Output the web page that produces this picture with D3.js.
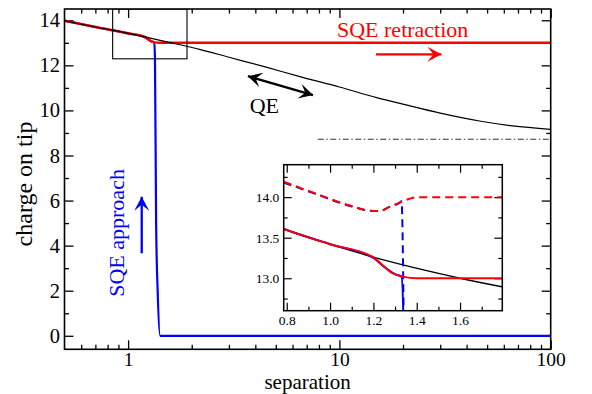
<!DOCTYPE html>
<html>
<head>
<meta charset="utf-8">
<script src="https://cdn.jsdelivr.net/npm/d3@7"></script>
<style>
  body { margin: 0; background: #fff; }
  text { font-family: "Liberation Serif", "Times New Roman", serif; }
</style>
</head>
<body>
<svg width="592" height="394"></svg>
<script>
// ---- data ----
// QE curve (black), separation vs charge
const qeCurve = [[0.5, 13.98], [0.7, 13.7], [1, 13.42], [1.2, 13.26], [1.6, 13.0], [2.2, 12.7],
  [3, 12.36], [4.5, 11.92], [6.5, 11.5], [10, 11.04], [15, 10.57], [20, 10.28], [30, 9.88],
  [46, 9.53], [66, 9.31], [100, 9.16]];
// SQE retraction (red)
const sqeRetraction = [[0.5, 13.98], [0.7, 13.7], [1, 13.42], [1.2, 13.26], [1.243, 13.16],
  [1.29, 13.06], [1.336, 13.02], [1.4, 13.0], [100, 13.0]];
// SQE approach (blue)
const sqeApproach = [[0.5, 13.98], [0.7, 13.7], [1, 13.42], [1.2, 13.25], [1.25, 13.14],
  [1.3, 13.05], [1.33, 13.02], [1.34, 12.3], [1.357, 5], [1.38, 2.0], [1.418, 0], [100, 0]];
// dashed curves only shown in the inset
const retractionDashed = [[0.786, 14.19], [0.933, 14.045], [1.088, 13.9], [1.197, 13.83],
  [1.228, 13.83], [1.274, 13.88], [1.32, 13.93], [1.367, 13.98], [1.4, 14.0], [1.8, 14.0]];
const approachDashed = [[0.786, 14.18], [0.933, 14.04], [1.088, 13.895], [1.197, 13.83],
  [1.228, 13.83], [1.274, 13.88], [1.32, 13.93], [1.33, 13.95], [1.34, 12.5]];
// asymptote (dash dot)
const asymptote = [[7.9, 8.72], [100, 8.72]];
// zoom box drawn on the main plot
const zoomBox = { x: [0.845, 1.9], y: [12.29, 14.5] };

// ticks
const xMajor = [1, 10, 100];
const xMinor = [0.6, 0.7, 0.8, 0.9, 2, 3, 4, 5, 6, 7, 8, 9, 20, 30, 40, 50, 60, 70, 80, 90];
const yMajor = [0, 2, 4, 6, 8, 10, 12, 14];
const yMinor = [1, 3, 5, 7, 9, 11, 13];
const insetXMajor = [0.8, 1.0, 1.2, 1.4, 1.6];
const insetXMinor = [0.9, 1.1, 1.3, 1.5, 1.7];
const insetYMajor = [13.0, 13.5, 14.0];
const insetYMinor = [12.75, 13.25, 13.75, 14.25];

// annotations, in data coordinates
const arrows = [
  { from: [14.9, 12.49], to: [30.4, 12.49], color: "#ff0000", both: false },
  { from: [1.16, 3.66], to: [1.16, 6.17], color: "#0000ff", both: false },
  { from: [7.5, 10.68], to: [3.69, 11.52], color: "#000", both: true }
];

const svg = d3.select("svg"),
  margin = { top: 9, right: 41.3, bottom: 44.7, left: 64.5 },
  width = +svg.attr("width") - margin.left - margin.right,
  height = +svg.attr("height") - margin.top - margin.bottom;

const x = d3.scaleLog().domain([0.5, 100]).range([0, width]);
const y = d3.scaleLinear().domain([-0.6, 14.5]).range([height, 0]);

const g = svg.append("g")
  .attr("transform", "translate(" + margin.left + "," + margin.top + ")");

g.append("clipPath").attr("id", "clipMain")
  .append("rect").attr("width", width).attr("height", height);

// tick helper, all ticks point inward like in grace
function ticks(sel, axis, major, minor, size, fmt, pad, font, labels) {
  sel.append("g").call(axis.tickValues(major).tickSize(-size).tickSizeOuter(0)
      .tickPadding(pad).tickFormat(labels ? fmt : ""))
    .call(a => a.select(".domain").remove())
    .call(a => a.selectAll("text").attr("font-family", "Liberation Serif")
      .attr("font-size", font).attr("fill", "#000"));
  sel.append("g").call(axis.tickValues(minor).tickSize(-size / 2).tickFormat(""))
    .call(a => a.select(".domain").remove());
}

// main axes
ticks(g.append("g").attr("transform", "translate(0," + height + ")"),
  d3.axisBottom(x), xMajor, xMinor, 9, d3.format("d"), 2.5, 19.5, true);
ticks(g.append("g"), d3.axisTop(x), xMajor, xMinor, 9, null, 3, 19.5, false);
ticks(g.append("g"), d3.axisLeft(y), yMajor, yMinor, 9, d3.format("d"), 4.5, 20.5, true);
ticks(g.append("g").attr("transform", "translate(" + width + ",0)"),
  d3.axisRight(y), yMajor, yMinor, 9, null, 3, 20.5, false);
g.selectAll(".tick line").attr("stroke", "#000").attr("stroke-width", 1.3);

const line = d3.line().x(d => x(d[0])).y(d => y(d[1])).curve(d3.curveMonotoneX);
const plot = g.append("g").attr("clip-path", "url(#clipMain)");

plot.append("path").datum(asymptote).attr("d", line.curve(d3.curveLinear))
  .attr("fill", "none").attr("stroke", "#333").attr("stroke-width", 1.2)
  .attr("stroke-dasharray", "6,2.5,1.5,2.5");
line.curve(d3.curveMonotoneX);
plot.append("path").datum(sqeApproach).attr("d", line)
  .attr("fill", "none").attr("stroke", "#0000ff").attr("stroke-width", 2.2);
plot.append("path").datum(sqeRetraction).attr("d", line)
  .attr("fill", "none").attr("stroke", "#ff0000").attr("stroke-width", 2.5);
plot.append("path").datum(qeCurve).attr("d", line)
  .attr("fill", "none").attr("stroke", "#000").attr("stroke-width", 1.2);

plot.append("rect")
  .attr("x", x(zoomBox.x[0])).attr("y", y(zoomBox.y[1]))
  .attr("width", x(zoomBox.x[1]) - x(zoomBox.x[0]))
  .attr("height", y(zoomBox.y[0]) - y(zoomBox.y[1]))
  .attr("fill", "none").attr("stroke", "#000").attr("stroke-width", 1.1);

// arrows with notched heads
function head(p, q, color) {
  const a = Math.atan2(p[1] - q[1], p[0] - q[0]);
  const L = 14, W = 7.5, N = 8;
  const pt = (d, o) => [p[0] - d * Math.cos(a) + o * Math.sin(a), p[1] - d * Math.sin(a) - o * Math.cos(a)];
  g.append("path")
    .attr("d", "M" + [p, pt(L, W), pt(N, 0), pt(L, -W)].join("L") + "Z")
    .attr("fill", color);
}
arrows.forEach(ar => {
  const p0 = [x(ar.from[0]), y(ar.from[1])], p1 = [x(ar.to[0]), y(ar.to[1])];
  g.append("line").attr("x1", p0[0]).attr("y1", p0[1]).attr("x2", p1[0]).attr("y2", p1[1])
    .attr("stroke", ar.color).attr("stroke-width", 2.3);
  head(p1, p0, ar.color);
  if (ar.both) head(p0, p1, ar.color);
});

// annotation text
g.append("text").attr("x", x(9.74)).attr("y", y(13.27))
  .attr("font-size", 22).attr("fill", "#ff0000").text("SQE retraction");
g.append("text").attr("x", x(3.76)).attr("y", y(9.9))
  .attr("font-size", 22).attr("fill", "#000").text("QE");
g.append("text").attr("transform", "translate(" + x(0.96) + "," + y(1.73) + ") rotate(-90)")
  .attr("font-size", 22).attr("fill", "#0000ff").text("SQE approach");

// frame
g.append("rect").attr("width", width).attr("height", height)
  .attr("fill", "none").attr("stroke", "#000").attr("stroke-width", 1.6);

// axis titles
svg.append("text").attr("x", margin.left + width / 2).attr("y", 388.5)
  .attr("text-anchor", "middle").attr("font-size", 21).text("separation");
svg.append("text").attr("transform", "translate(32,184) rotate(-90)")
  .attr("text-anchor", "middle").attr("font-size", 24).text("charge on tip");

// ---- inset ----
const inset = { left: 283.7, top: 164.7, width: 218.6, height: 146 };
const xi = d3.scaleLinear().domain([0.786, 1.795]).range([0, inset.width]);
const yi = d3.scaleLinear().domain([12.6, 14.4]).range([inset.height, 0]);
const gi = svg.append("g")
  .attr("transform", "translate(" + inset.left + "," + inset.top + ")");
gi.append("rect").attr("width", inset.width).attr("height", inset.height).attr("fill", "#fff");
gi.append("clipPath").attr("id", "clipInset")
  .append("rect").attr("width", inset.width).attr("height", inset.height);

ticks(gi.append("g").attr("transform", "translate(0," + inset.height + ")"),
  d3.axisBottom(xi), insetXMajor, insetXMinor, 8, d3.format(".1f"), 4.7, 13.5, true);
ticks(gi.append("g"), d3.axisTop(xi), insetXMajor, insetXMinor, 8, null, 3, 13.5, false);
ticks(gi.append("g"), d3.axisLeft(yi), insetYMajor, insetYMinor, 8, d3.format(".1f"), 4.4, 13.5, true);
ticks(gi.append("g").attr("transform", "translate(" + inset.width + ",0)"),
  d3.axisRight(yi), insetYMajor, insetYMinor, 8, null, 3, 13.5, false);
gi.selectAll(".tick line").attr("stroke", "#000").attr("stroke-width", 1.2);

const lineI = d3.line().x(d => xi(d[0])).y(d => yi(d[1])).curve(d3.curveMonotoneX);
const pi = gi.append("g").attr("clip-path", "url(#clipInset)");
pi.append("path").datum(qeCurve).attr("d", lineI)
  .attr("fill", "none").attr("stroke", "#000").attr("stroke-width", 1.3);
pi.append("path").datum(approachDashed).attr("d", lineI)
  .attr("fill", "none").attr("stroke", "#0000ff").attr("stroke-width", 2)
  .attr("stroke-dasharray", "8,5");
pi.append("path").datum(retractionDashed).attr("d", lineI)
  .attr("fill", "none").attr("stroke", "#ff0000").attr("stroke-width", 2)
  .attr("stroke-dasharray", "8,5");
pi.append("path").datum(sqeApproach).attr("d", lineI)
  .attr("fill", "none").attr("stroke", "#0000ff").attr("stroke-width", 2);
pi.append("path").datum(sqeRetraction).attr("d", lineI)
  .attr("fill", "none").attr("stroke", "#ff0000").attr("stroke-width", 2);

gi.append("rect").attr("width", inset.width).attr("height", inset.height)
  .attr("fill", "none").attr("stroke", "#000").attr("stroke-width", 1.5);
</script>
</body>
</html>
